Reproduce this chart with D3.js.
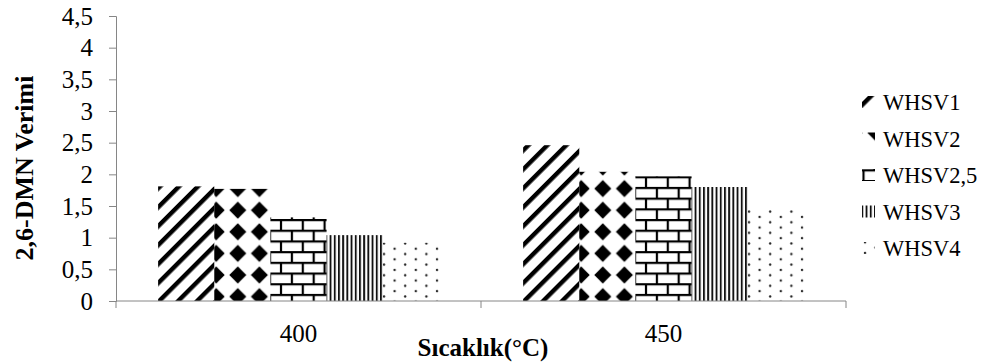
<!DOCTYPE html>
<html>
<head>
<meta charset="utf-8">
<script src="https://cdn.jsdelivr.net/npm/d3@7"></script>
<style>
  body { margin: 0; background: #fff; }
  svg text { font-family: "Liberation Serif", "Times New Roman", serif; }
</style>
</head>
<body>
<div id="chart"></div>
<script>
// data
const categories = ["400", "450"];
const seriesNames = ["WHSV1", "WHSV2", "WHSV2,5", "WHSV3", "WHSV4"];
const values400 = [1.81, 1.77, 1.32, 1.04, 0.92];
const values450 = [2.46, 2.04, 1.97, 1.80, 1.44];
const yTicks = [0, 0.5, 1, 1.5, 2, 2.5, 3, 3.5, 4, 4.5];

const W = 1001, H = 362;
const plotL = 116, plotR = 846, plotT = 16, plotB = 301;
const serif = "'Liberation Serif', 'Times New Roman', serif";

const svg = d3.select("#chart").append("svg")
  .attr("width", W).attr("height", H);

// fill patterns, one per series
const defs = svg.append("defs");

const p1 = defs.append("pattern").attr("id", "pat0")
  .attr("patternUnits", "userSpaceOnUse")
  .attr("width", 13.4).attr("height", 13.4)
  .attr("patternTransform", "rotate(45)");
p1.append("rect").attr("x", 0).attr("y", 0).attr("width", 4.4).attr("height", 13.4).attr("fill", "#000");

const p2 = defs.append("pattern").attr("id", "pat1")
  .attr("patternUnits", "userSpaceOnUse")
  .attr("x", 219).attr("y", 5)
  .attr("width", 21.6).attr("height", 21.6);
p2.append("path").attr("d", "M10.8,2.3 L19.3,10.8 L10.8,19.3 L2.3,10.8 Z").attr("fill", "#000");

const p3 = defs.append("pattern").attr("id", "pat2")
  .attr("patternUnits", "userSpaceOnUse")
  .attr("x", 272).attr("y", 5)
  .attr("width", 21.8).attr("height", 21.4);
p3.append("path")
  .attr("d", "M0,1 H21.8 M0,11.7 H21.8 M2,1 V11.7 M12.9,11.7 V21.4")
  .attr("stroke", "#000").attr("stroke-width", 2.2).attr("fill", "none");

const p4 = defs.append("pattern").attr("id", "pat3")
  .attr("patternUnits", "userSpaceOnUse")
  .attr("x", 327)
  .attr("width", 4.2).attr("height", 10);
p4.append("rect").attr("x", 0).attr("y", 0).attr("width", 1.9).attr("height", 10).attr("fill", "#111");

const p5 = defs.append("pattern").attr("id", "pat4")
  .attr("patternUnits", "userSpaceOnUse")
  .attr("x", 0).attr("y", 3)
  .attr("width", 21.2).attr("height", 10.6);
p5.append("circle").attr("cx", 3).attr("cy", 2).attr("r", 1.2).attr("fill", "#222");
p5.append("circle").attr("cx", 13.6).attr("cy", 7.3).attr("r", 1.2).attr("fill", "#222");

// scales
const x0 = d3.scaleBand().domain(categories).range([plotL, plotR]).paddingInner(0).paddingOuter(0);
const x1 = d3.scaleBand().domain(seriesNames).range([0, x0.bandwidth()]).paddingInner(0).paddingOuter(0.75);
const y = d3.scaleLinear().domain([0, 4.5]).range([plotB, plotT]);

const rows = categories.map((c, i) => ({
  cat: c,
  vals: (i === 0 ? values400 : values450).map((v, j) => ({ name: seriesNames[j], idx: j, v: v }))
}));

// bars
const groups = svg.selectAll("g.grp").data(rows).enter().append("g")
  .attr("class", "grp")
  .attr("transform", d => "translate(" + x0(d.cat) + ",0)");

groups.selectAll("rect").data(d => d.vals).enter().append("rect")
  .attr("x", d => x1(d.name))
  .attr("y", d => y(d.v))
  .attr("width", x1.bandwidth())
  .attr("height", d => y(0) - y(d.v))
  .attr("fill", d => "url(#pat" + d.idx + ")");

// y axis
const fmt = d => String(d).replace(".", ",");
const yAxis = svg.append("g").attr("transform", "translate(" + plotL + ",0)")
  .call(d3.axisLeft(y).tickValues(yTicks).tickFormat(fmt).tickSize(7).tickPadding(16));
yAxis.attr("font-family", serif).attr("font-size", 25);
yAxis.select(".domain").attr("stroke", "#868686");
yAxis.selectAll(".tick line").attr("stroke", "#868686");
yAxis.selectAll(".tick text").attr("fill", "#000");

// x axis
const xAxis = svg.append("g").attr("transform", "translate(0," + plotB + ")")
  .call(d3.axisBottom(x0).tickSize(0).tickPadding(23));
xAxis.attr("font-family", serif).attr("font-size", 25);
xAxis.select(".domain").attr("stroke", "#868686").attr("d", "M" + plotL + ",0H" + plotR);
xAxis.selectAll(".tick text").attr("fill", "#000");
xAxis.selectAll("line.sep").data([plotL, x0("450"), plotR]).enter().append("line")
  .attr("class", "sep")
  .attr("x1", d => d).attr("x2", d => d)
  .attr("y1", 0).attr("y2", 7)
  .attr("stroke", "#868686");

// axis titles
svg.append("text")
  .attr("x", (plotL + plotR) / 2 + 2).attr("y", 356)
  .attr("text-anchor", "middle")
  .attr("font-family", serif)
  .attr("font-size", 25).attr("font-weight", "bold")
  .text("Sıcaklık(°C)");

svg.append("text")
  .attr("transform", "translate(33,168) rotate(-90)")
  .attr("text-anchor", "middle")
  .attr("font-family", serif)
  .attr("font-size", 26).attr("font-weight", "bold")
  .text("2,6-DMN Verimi");

// legend
const legend = svg.append("g").attr("font-family", serif).attr("font-size", 22.5);
const items = legend.selectAll("g").data(seriesNames).enter().append("g")
  .attr("transform", (d, i) => "translate(862," + (102 + i * 36.5) + ")");
items.append("rect")
  .attr("x", 0).attr("y", -6).attr("width", 13).attr("height", 12)
  .attr("fill", (d, i) => "url(#pat" + i + ")");
items.append("text")
  .attr("x", 21).attr("y", 8)
  .text(d => d);
</script>
</body>
</html>
